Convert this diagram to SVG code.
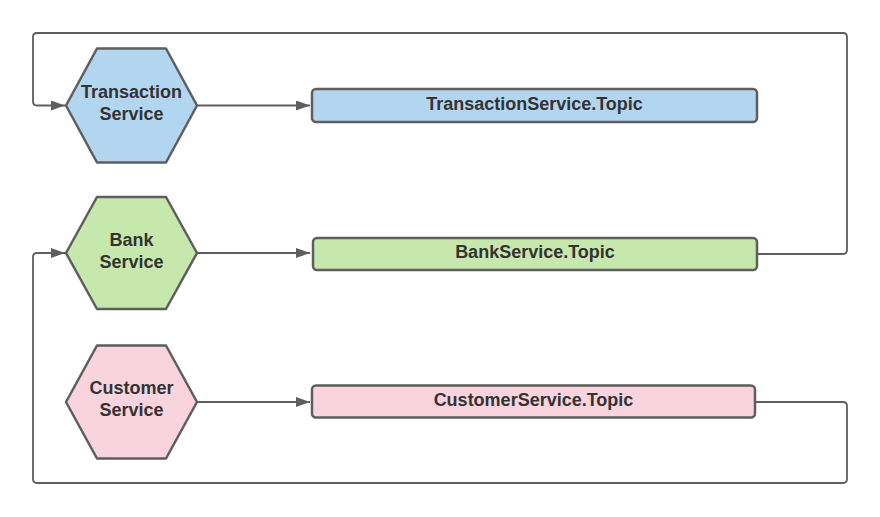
<svg xmlns="http://www.w3.org/2000/svg" width="880" height="517" viewBox="0 0 880 517">
<style>
.hex,.box{stroke:#5e5e5e;stroke-width:2.5;stroke-linejoin:round}
.blue{fill:#b3d6f0}.green{fill:#c7e8ac}.pink{fill:#f9d3de}
.lbl{font-family:"Liberation Sans",Arial,sans-serif;font-weight:bold;font-size:18px;fill:#333333;text-anchor:middle}
.con{fill:none;stroke:#5e5e5e;stroke-width:1.8;stroke-linejoin:round}
</style>
<defs>
<marker id="ah" viewBox="0 0 14 10" refX="14" refY="5" markerWidth="14" markerHeight="10" markerUnits="userSpaceOnUse" orient="auto">
<path d="M0,0 L14,5 L0,10 Z" fill="#5e5e5e"/>
</marker>
</defs>
<rect width="880" height="517" fill="#ffffff"/>
<g id="connectors">
<path class="con" d="M197,105.5 H310" marker-end="url(#ah)"/>
<path class="con" d="M197,253 H310" marker-end="url(#ah)"/>
<path class="con" d="M197,402 H310" marker-end="url(#ah)"/>
<path class="con" d="M757,254 H843 Q847,254 847,250 V37 Q847,33 843,33 H37 Q33,33 33,37 V101.5 Q33,105.5 37,105.5 H65" marker-end="url(#ah)"/>
<path class="con" d="M755,402 H843 Q847,402 847,406 V479 Q847,483 843,483 H37 Q33,483 33,479 V257 Q33,253 37,253 H65" marker-end="url(#ah)"/>
</g>
<g id="transaction-service">
<path class="hex blue" d="M66,105.5 L97,48.5 H166 L197,105.5 L166,162.5 H97 Z"/>
<text class="lbl" x="131.5" y="98">Transaction</text>
<text class="lbl" x="131.5" y="120">Service</text>
</g>
<g id="bank-service">
<path class="hex green" d="M66,253 L97,197 H166 L197,253 L166,309 H97 Z"/>
<text class="lbl" x="131.5" y="246">Bank</text>
<text class="lbl" x="131.5" y="268">Service</text>
</g>
<g id="customer-service">
<path class="hex pink" d="M66,402 L97,345.5 H166 L197,402 L166,458.5 H97 Z"/>
<text class="lbl" x="131.5" y="394">Customer</text>
<text class="lbl" x="131.5" y="416">Service</text>
</g>
<g id="transaction-topic">
<rect class="box blue" x="312" y="89" width="445" height="33" rx="4"/>
<text class="lbl" x="534.5" y="110">TransactionService.Topic</text>
</g>
<g id="bank-topic">
<rect class="box green" x="313" y="238" width="444" height="32" rx="4"/>
<text class="lbl" x="535" y="258">BankService.Topic</text>
</g>
<g id="customer-topic">
<rect class="box pink" x="312" y="385.5" width="443" height="32" rx="4"/>
<text class="lbl" x="533.5" y="405.5">CustomerService.Topic</text>
</g>
</svg>
